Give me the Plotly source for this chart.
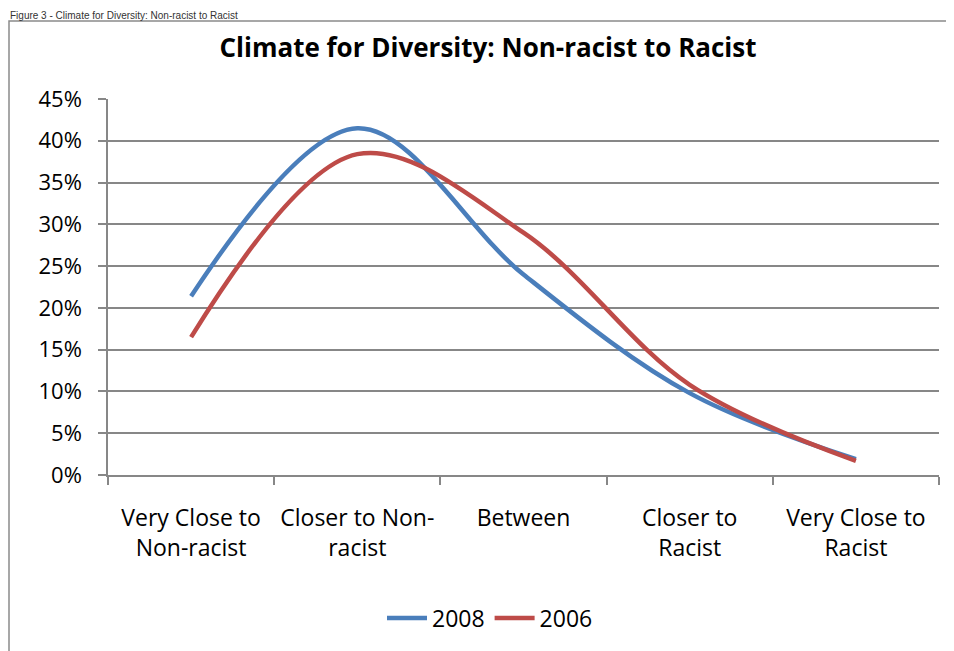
import plotly.graph_objects as go

categories = ["Very Close to<br>Non-racist", "Closer to Non-<br>racist", "Between",
              "Closer to<br>Racist", "Very Close to<br>Racist"]
series_2008 = [0.214, 0.415, 0.240, 0.098, 0.019]
series_2006 = [0.165, 0.384, 0.290, 0.108, 0.017]
y_ticks = [0, 0.05, 0.10, 0.15, 0.20, 0.25, 0.30, 0.35, 0.40, 0.45]

FONT = "Open Sans, Calibri, sans-serif"
GRID = "#878787"

W, H = 946, 643           # page adds an 8px body margin
L, R, T, B = 100, 15, 91, 176
PW, PH = W - L - R, H - T - B

fig = go.Figure()
fig.add_trace(go.Scatter(x=categories, y=series_2008, name="2008", mode="lines",
                         line=dict(color="#4A7EBB", width=4.5, shape="spline", smoothing=1.0)))
fig.add_trace(go.Scatter(x=categories, y=series_2006, name="2006", mode="lines",
                         line=dict(color="#BE4B48", width=4.5, shape="spline", smoothing=1.0)))

fig.update_layout(
    width=W, height=H,
    paper_bgcolor="white", plot_bgcolor="white",
    margin=dict(l=L, r=R, t=T, b=B),
    font=dict(family=FONT, size=20, color="black"),
    title=dict(text="<b>Climate for Diversity: Non-racist to Racist</b>",
               x=480 / W, xanchor="center", y=1 - 40 / H, yanchor="middle",
               font=dict(family=FONT, size=26, color="black")),
    showlegend=True,
    legend=dict(orientation="h", x=(482 - L) / PW, xanchor="center",
                y=-(610 - (T + PH)) / PH, yanchor="middle",
                font=dict(family=FONT, size=23), itemwidth=40),
    xaxis=dict(type="category", tickson="boundaries", showgrid=False,
               showline=True, linecolor=GRID, linewidth=1.5,
               ticks="outside", ticklen=8, tickcolor=GRID, tickwidth=1.5,
               ticklabelstandoff=22,
               tickfont=dict(family=FONT, size=23), range=[-0.5, 4.5]),
    yaxis=dict(range=[0, 0.45], tickvals=y_ticks, tickformat=".0%",
               showgrid=True, gridcolor=GRID, gridwidth=1.5,
               showline=True, linecolor=GRID, linewidth=1.5,
               ticks="outside", ticklen=8, tickcolor=GRID, tickwidth=1.5,
               ticklabelstandoff=12,
               tickfont=dict(family=FONT, size=22), zeroline=False),
)

# chart frame (extends past the visible window on right and bottom)
fig.add_shape(type="rect", xref="paper", yref="paper",
              x0=-(L - 1) / PW, x1=1.2, y0=-0.8, y1=(T + PH - 13) / PH,
              line=dict(color="#8a8a8a", width=1.5), fillcolor="rgba(0,0,0,0)", layer="below")

# document caption above the frame
fig.add_annotation(text="Figure 3 - Climate for Diversity: Non-racist to Racist",
                   xref="paper", yref="paper", x=-L / PW, xanchor="left",
                   y=(T + PH) / PH, yanchor="top", showarrow=False,
                   font=dict(family="Liberation Sans, Arial", size=10, color="#333333"))

fig.write_html("out.html")
